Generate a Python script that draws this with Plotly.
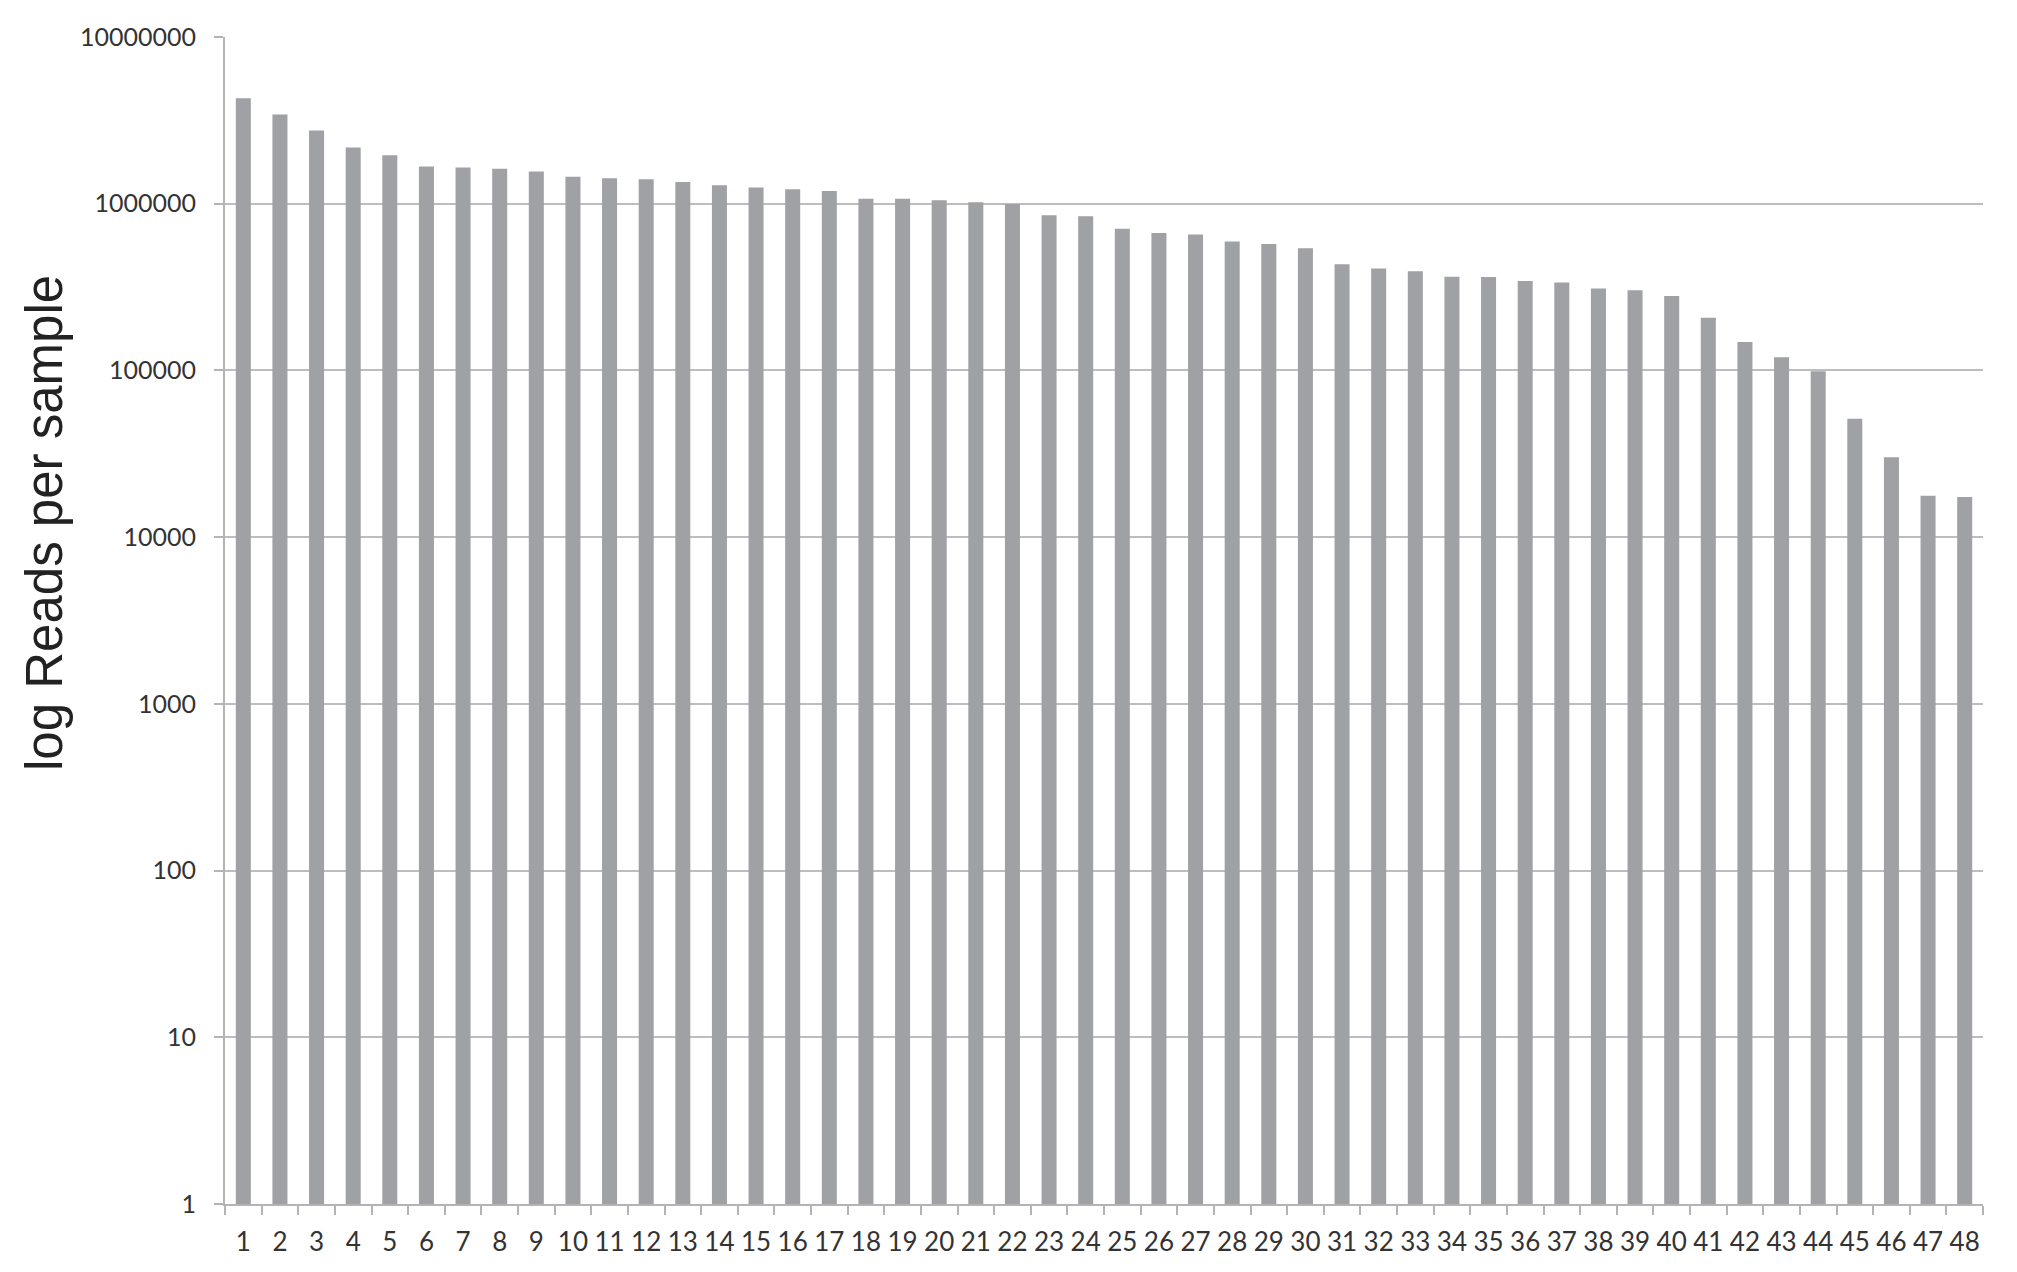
import plotly.graph_objects as go

samples = [str(i) for i in range(1, 49)]
reads = [
    4290000, 3430000, 2750000, 2170000, 1950000, 1670000, 1650000, 1620000,
    1560000, 1450000, 1420000, 1400000, 1350000, 1290000, 1250000, 1220000,
    1190000, 1070000, 1070000, 1050000, 1020000, 995000, 854000, 840000,
    707000, 668000, 653000, 593000, 574000, 540000, 433000, 409000,
    393000, 365000, 363000, 344000, 337000, 310000, 303000, 280000,
    207000, 148000, 120000, 99000, 51300, 30100, 17700, 17400,
]

y_tickvals = [1, 10, 100, 1000, 10000, 100000, 1000000, 10000000]
y_ticktext = ["1", "10", "100", "1000", "10000", "100000", "1000000", "10000000"]

W, H = 2017, 1272
left, right, top, bottom = 217, 42, 29, 76

fig = go.Figure()

fig.add_trace(go.Bar(
    x=samples,
    y=reads,
    marker=dict(color="#a0a1a5", line_width=0),
    showlegend=False,
))

# y axis title sits a bit above the middle of the plot, so use an annotation
plot_w = W - left - right
plot_h = H - top - bottom
fig.add_annotation(
    text="log Reads per sample",
    textangle=-90,
    xref="paper", yref="paper",
    x=(36 - left) / plot_w,
    y=(H - bottom - 515) / plot_h,
    xanchor="center", yanchor="middle",
    showarrow=False,
    font=dict(family="Liberation Sans, Arial, sans-serif", size=51, color="#222222"),
)

fig.update_layout(
    width=W,
    height=H,
    margin=dict(l=left, r=right, t=top, b=bottom),
    paper_bgcolor="white",
    plot_bgcolor="white",
    bargap=0.59,
    font=dict(family="Lato, sans-serif", size=26, color="#333333"),
)

fig.update_xaxes(
    type="category",
    showline=True,
    linecolor="#b4b4b4",
    linewidth=2,
    ticks="outside",
    tickson="boundaries",
    ticklen=9,
    tickwidth=2,
    tickcolor="#b4b4b4",
    showgrid=False,
    tickangle=0,
    ticklabelstandoff=14,
    tickfont=dict(family="Lato, sans-serif", size=26, color="#333333"),
)

fig.update_yaxes(
    type="log",
    range=[0, 7],
    tickvals=y_tickvals,
    ticktext=y_ticktext,
    showline=True,
    linecolor="#b4b4b4",
    linewidth=2,
    ticks="outside",
    ticklen=9,
    tickwidth=2,
    tickcolor="#b4b4b4",
    showgrid=True,
    gridcolor="#bdbdbd",
    gridwidth=2,
    zeroline=False,
    ticklabelstandoff=13,
    tickfont=dict(family="Lato, sans-serif", size=25, color="#333333"),
)

fig.write_html("out.html")
